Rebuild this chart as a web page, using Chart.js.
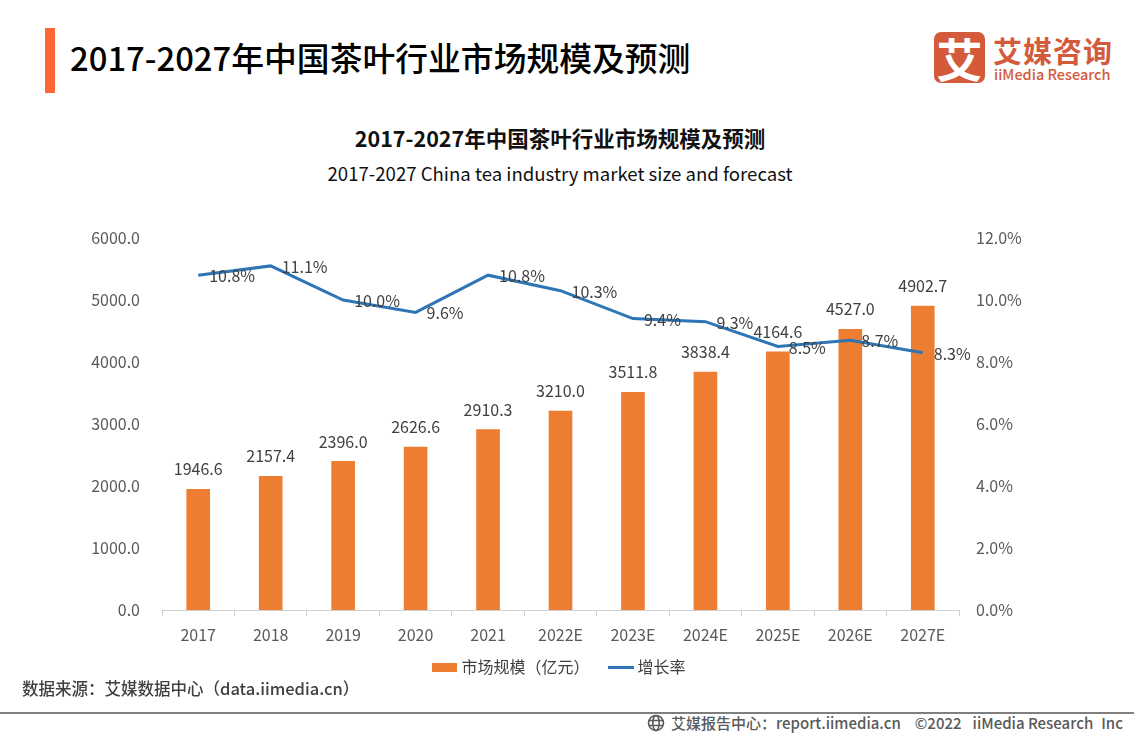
<!DOCTYPE html>
<html>
<head>
<meta charset="utf-8">
<script src="https://cdn.jsdelivr.net/npm/chart.js@4"></script>
<style>
  html, body { margin: 0; padding: 0; background: #fff; }
  body { width: 1134px; height: 737px; position: relative; overflow: hidden; font-family: "Noto Sans CJK SC", "Noto Sans", sans-serif; }
  canvas#chart { position: absolute; left: 0; top: 0; }
  .abs { position: absolute; white-space: nowrap; }
  #accent { left: 45px; top: 28px; width: 10px; height: 65px; background: #ff6633; }
  #head { left: 70px; top: 34px; font-size: 32.8px; line-height: 46px; font-weight: 500; color: #000; }
  #title { left: -7px; width: 1134px; text-align: center; top: 124px; font-size: 21.5px; line-height: 28px; font-weight: 700; color: #111; }
  #subtitle { left: -7px; width: 1134px; text-align: center; top: 159px; font-size: 18.6px; line-height: 28px; color: #111; }
  #logo-box { left: 934px; top: 32px; width: 51px; height: 51px; border-radius: 7px; background: #d35b3b; color: #fff; font-size: 46px; line-height: 50px; text-align: center; font-weight: 700; }
  #logo-cn { left: 993px; top: 30px; font-size: 29px; line-height: 40px; font-weight: 700; color: #d35b3b; letter-spacing: 1px; }
  #logo-en { left: 994px; top: 64px; font-size: 14.5px; line-height: 20px; font-weight: 500; color: #d35b3b; }
  #source { left: 22px; top: 678px; font-size: 16.5px; line-height: 20px; font-weight: 500; color: #404040; }
  #rule { left: 0; top: 712px; width: 1134px; height: 2px; background: #7f7f7f; }
  #footer { left: 671px; top: 713px; font-size: 15px; line-height: 20px; font-weight: 500; color: #595959; }
  #footer .copy { margin-left: 14px; }
  #footer .org { margin-left: 11px; }
  #footer .inc { margin-left: 8px; }
  #globe { left: 647px; top: 714px; }
</style>
</head>
<body>
<div class="abs" id="accent"></div>
<div class="abs" id="head">2017-2027年中国茶叶行业市场规模及预测</div>
<div class="abs" id="logo-box">艾</div>
<div class="abs" id="logo-cn">艾媒咨询</div>
<div class="abs" id="logo-en">iiMedia Research</div>
<div class="abs" id="title">2017-2027年中国茶叶行业市场规模及预测</div>
<div class="abs" id="subtitle">2017-2027 China tea industry market size and forecast</div>
<canvas id="chart" width="1134" height="685"></canvas>
<div class="abs" id="source">数据来源：艾媒数据中心（data.iimedia.cn）</div>
<div class="abs" id="rule"></div>
<svg class="abs" id="globe" width="18" height="18" viewBox="0 0 18 18" fill="none" stroke="#595959" stroke-width="1.6">
  <circle cx="9" cy="9" r="7.5"/><ellipse cx="9" cy="9" rx="3.2" ry="7.5"/><path d="M2 6.5h14M2 11.5h14"/>
</svg>
<div class="abs" id="footer">艾媒报告中心：report.iimedia.cn<span class="copy">©2022</span><span class="org">iiMedia Research</span><span class="inc">Inc</span></div>

<script>
// data
const years = ['2017', '2018', '2019', '2020', '2021', '2022E', '2023E', '2024E', '2025E', '2026E', '2027E'];
const marketSize = [1946.6, 2157.4, 2396.0, 2626.6, 2910.3, 3210.0, 3511.8, 3838.4, 4164.6, 4527.0, 4902.7];
const growthRate = [10.8, 11.1, 10.0, 9.6, 10.8, 10.3, 9.4, 9.3, 8.5, 8.7, 8.3];

const ORANGE = '#ed7d31';
const BLUE = '#2e75b6';
const TEXT = '#404040';
const TICK = '#595959';
const FONT = '"Noto Sans CJK SC", "Noto Sans", sans-serif';

Chart.defaults.font.family = FONT;
Chart.defaults.color = TICK;

// little legend swatches: wide box for the bars, thin stroke for the line
function swatch(color, w, h) {
  const c = document.createElement('canvas');
  c.width = w;
  c.height = h;
  const g = c.getContext('2d');
  g.fillStyle = color;
  g.fillRect(0, 0, w, h);
  return c;
}
const legendSwatches = [swatch(ORANGE, 25, 9), swatch(BLUE, 26, 3)];

// value labels: above the bars, to the right of the line points
const valueLabels = {
  id: 'valueLabels',
  afterDatasetsDraw(chart) {
    const ctx = chart.ctx;
    ctx.save();
    ctx.font = '16px ' + FONT;
    ctx.fillStyle = TEXT;
    ctx.textBaseline = 'middle';

    ctx.textAlign = 'center';
    chart.getDatasetMeta(0).data.forEach((bar, i) => {
      ctx.fillText(marketSize[i].toFixed(1), bar.x, bar.y - 20);
    });

    ctx.textAlign = 'left';
    chart.getDatasetMeta(1).data.forEach((pt, i) => {
      ctx.fillText(growthRate[i].toFixed(1) + '%', pt.x + 11, pt.y + 1);
    });
    ctx.restore();
  }
};

// the legend's wide item padding eats into the x axis box, so the tick labels
// get clipped unless the axis bottom is pushed back down after layout
const unclipXLabels = {
  id: 'unclipXLabels',
  afterLayout(chart) {
    chart.scales.x.bottom += 24;
  }
};

new Chart(document.getElementById('chart').getContext('2d'), {
  data: {
    labels: years,
    datasets: [
      {
        type: 'bar',
        label: '市场规模（亿元）',
        data: marketSize,
        yAxisID: 'y',
        backgroundColor: ORANGE,
        barThickness: 23,
        order: 2,
      },
      {
        type: 'line',
        label: '增长率',
        data: growthRate,
        yAxisID: 'y1',
        borderColor: BLUE,
        backgroundColor: BLUE,
        borderWidth: 3,
        tension: 0,
        pointRadius: 0,
        order: 1,
      },
    ],
  },
  plugins: [unclipXLabels, valueLabels],
  options: {
    responsive: false,
    animation: false,
    layout: { padding: { top: 238, bottom: 0, left: 0, right: 12 } },
    plugins: {
      title: { display: false },
      tooltip: { enabled: false },
      legend: {
        position: 'bottom',
        labels: {
          usePointStyle: true,
          pointStyleWidth: 17,
          padding: 23,
          color: TEXT,
          font: { size: 16 },
          generateLabels: chart => chart.data.datasets.map((ds, i) => ({
            text: ds.label,
            fontColor: TEXT,
            pointStyle: legendSwatches[i],
            datasetIndex: i,
          })),
        },
      },
    },
    scales: {
      x: {
        grid: { display: true, drawOnChartArea: false, drawTicks: true, tickLength: 6, color: '#d0d0d0' },
        border: { color: '#d0d0d0' },
        afterFit: s => { s.height = 26; },
        ticks: { font: { size: 16 }, color: TICK, padding: 9, maxRotation: 0 },
      },
      y: {
        position: 'left',
        min: 0,
        max: 6000,
        grid: { display: false },
        border: { display: false },
        afterFit: s => { s.width = 162; },
        ticks: { stepSize: 1000, font: { size: 16 }, color: TICK, padding: 14, callback: v => v.toFixed(1) },
      },
      y1: {
        position: 'right',
        min: 0,
        max: 12,
        grid: { display: false },
        border: { display: false },
        afterFit: s => { s.width = 163; },
        ticks: { stepSize: 2, font: { size: 16 }, color: TICK, padding: 9, callback: v => v.toFixed(1) + '%' },
      },
    },
  },
});
</script>
</body>
</html>
